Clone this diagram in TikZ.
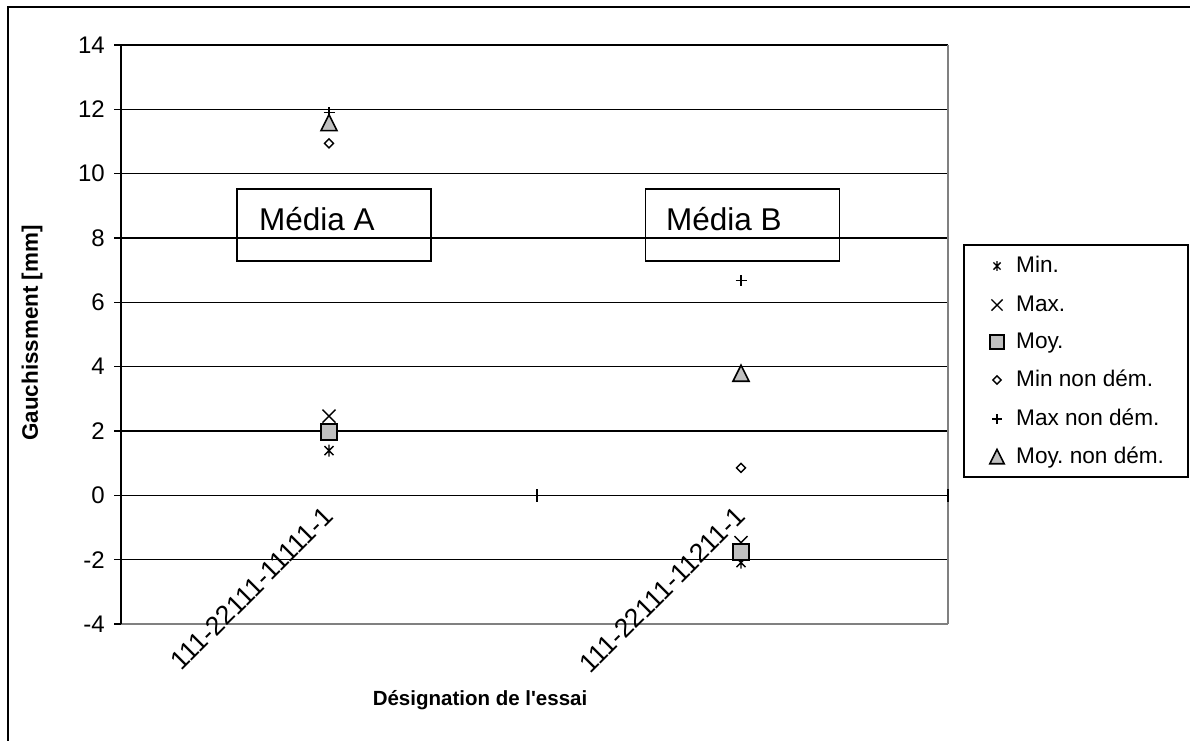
\documentclass[tikz,border=0pt]{standalone}
\usepackage{fontspec}
\setmainfont{Liberation Sans}[Ligatures=TeXOff]
\frenchspacing
\definecolor{mkgray}{RGB}{192,192,192}
\definecolor{bordgray}{RGB}{128,128,128}
\tikzset{
  grid/.style={line width=1.1, black},
  mk/.style={line width=1.4, black},
  ticklbl/.style={font=\fontsize{24}{28}\selectfont, inner sep=0},
  catlbl/.style={font=\fontsize{26.5}{30}\selectfont, inner sep=0, rotate=45, anchor=north east},
  leglbl/.style={font=\fontsize{22.6}{27}\selectfont, inner sep=0, anchor=base west},
  medialbl/.style={font=\fontsize{31.5}{36}\selectfont, inner sep=0, anchor=base west},
  axlbl/.style={font=\bfseries\fontsize{20.5}{25}\selectfont, inner sep=0},
  yaxlbl/.style={font=\bfseries\fontsize{22.4}{26}\selectfont, inner sep=0, rotate=90},
  mediabox/.style={draw, line width=1.6, minimum width=194, minimum height=72, inner sep=0},
  pics/mstar/.style={code={\draw[mk] (-4.5,-4.5)--(4.5,4.5) (-4.5,4.5)--(4.5,-4.5) (0,-6)--(0,6);}},
  pics/mcross/.style={code={\draw[mk] (-6.5,-6.5)--(6.5,6.5) (-6.5,6.5)--(6.5,-6.5);}},
  pics/msquare/.style={code={\draw[mk, line width=1.6, fill=mkgray] (-8,-8) rectangle (8,8);}},
  pics/mdiamond/.style={code={\draw[mk, fill=white] (0,-4.5)--(4.5,0)--(0,4.5)--(-4.5,0)--cycle;}},
  pics/mplus/.style={code={\draw[mk] (-5.5,0)--(5.5,0) (0,-5.5)--(0,5.5);}},
  pics/mtri/.style={code={\draw[mk, line width=1.6, fill=mkgray] (-8,7.5)--(8,7.5)--(0,-8.5)--cycle;}},
}
\begin{document}
\begin{tikzpicture}[x=1pt,y=-1pt]
\useasboundingbox (0,0) rectangle (1190,740);
\clip (0,0) rectangle (1190,740);
% outer frame
\draw[line width=1.6] (8,7) rectangle (1200,750);
% gridlines
\foreach \v in {14,12,10,8,6,4,2,-2} {
  \draw[grid] (121,{495.3-32.167*\v}) -- (948,{495.3-32.167*\v});
}
\draw[line width=1.2, bordgray] (121,624) -- (948,624);
\draw[line width=1.2, bordgray] (948,45) -- (948,624);
% y axis
\draw[line width=1.3] (121,45) -- (121,624);
\foreach \v in {14,12,10,8,6,4,2,0,-2,-4} {
  \draw[line width=1.3] (114,{495.3-32.167*\v}) -- (121,{495.3-32.167*\v});
  \node[ticklbl, anchor=east] (yt\v) at (105,{495.3-32.167*\v}) {\v};
}
% x axis at 0
\draw[line width=1.3] (121,495.3) -- (948,495.3);
\draw[line width=1.3] (537,489) -- (537,502);
\draw[line width=1.3] (948,489) -- (948,502);
% category labels
\node[catlbl] (catA) at (322,505) {111-22111-11111-1};
\node[catlbl] (catB) at (734,505) {111-22111-11211-1};
% axis titles
\node[axlbl] (xtitle) at (480,700) {Désignation de l'essai};
\node[yaxlbl] (ytitle) at (32,333) {Gauchissment [mm]};
% media boxes
\node[mediabox] (mA) at (334,225) {};
\node[medialbl] (mAt) at (259,230) {Média A};
\node[mediabox] (mB) at (742.5,225) {};
\node[medialbl] (mBt) at (666,230) {Média B};
% data category A (x=329)
\pic at (329,{495.3-32.167*1.39}) {mstar};
\pic at (329,{495.3-32.167*2.46}) {mcross};
\pic at (329,{495.3-32.167*1.96}) {msquare};
\pic at (329,{495.3-32.167*10.94}) {mdiamond};
\pic at (329,{495.3-32.167*11.9}) {mplus};
\pic at (329,{495.3-32.167*11.57}) {mtri};
% data category B (x=741)
\pic at (741,{495.3-32.167*-2.09}) {mstar};
\pic at (741,{495.3-32.167*-1.47}) {mcross};
\pic at (741,{495.3-32.167*-1.77}) {msquare};
\pic at (741,{495.3-32.167*0.85}) {mdiamond};
\pic at (741,{495.3-32.167*6.67}) {mplus};
\pic at (741,{495.3-32.167*3.78}) {mtri};
% legend
\draw[line width=1.3, fill=white] (964,245) rectangle (1188,477);
\pic[scale=0.8] at (997,266) {mstar};
\node[leglbl] (l1) at (1016,272) {Min.};
\pic[scale=0.85] at (997,305) {mcross};
\node[leglbl] (l2) at (1016,311) {Max.};
\pic[scale=0.9] at (997,342) {msquare};
\node[leglbl] (l3) at (1016,348) {Moy.};
\pic[scale=0.9] at (997,380) {mdiamond};
\node[leglbl] (l4) at (1016,386.5) {Min non dém.};
\pic[scale=0.9] at (997,419) {mplus};
\node[leglbl] (l5) at (1016,425) {Max non dém.};
\pic[scale=0.9] at (997,457) {mtri};
\node[leglbl] (l6) at (1016,463.5) {Moy. non dém.};
\end{tikzpicture}
\end{document}
